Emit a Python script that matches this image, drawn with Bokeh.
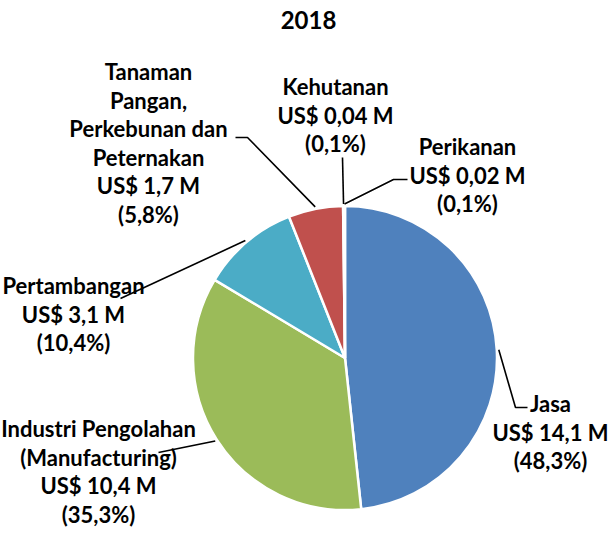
import math
from bokeh.plotting import figure
from bokeh.models import Range1d
from bokeh.core.properties import value
from bokeh.embed import file_html
from bokeh.resources import INLINE

# ---- data ----
title_text = "2018"
categories = ["Jasa", "Industri Pengolahan (Manufacturing)", "Pertambangan",
              "Tanaman Pangan, Perkebunan dan Peternakan", "Kehutanan", "Perikanan"]
name_lines = [["Jasa"], ["Industri Pengolahan", "(Manufacturing)"], ["Pertambangan"],
              ["Tanaman", "Pangan,", "Perkebunan dan", "Peternakan"], ["Kehutanan"], ["Perikanan"]]
values_musd = [14.1, 10.4, 3.1, 1.7, 0.04, 0.02]
percents = [48.3, 35.3, 10.4, 5.8, 0.1, 0.1]
colors = ["#4F81BD", "#9BBB59", "#4BACC6", "#C0504D", "#8064A2", "#F79646"]

# ---- layout (screen pixels of the picture) ----
CX, CY, R = 344.5, 357.5, 152
label_pos = [(550, 403), (98, 428), (73, 285), (148, 71), (335, 86), (467, 146)]
LINE_H = 28.6
# leader line extra points (after the start point on the pie edge)
leader_tail = [[(515, 407), (527, 407)],
               [(158, 452)],
               [(120, 298)],
               [(247, 137), (235, 137)],
               [(342, 157)],
               [(393, 179), (407, 179)]]

FONT = "Lato"

p = figure(width=608, height=532, output_backend="svg", toolbar_location=None,
           x_range=Range1d(0, 608), y_range=Range1d(-532, 0), min_border=0)
p.axis.visible = False
p.grid.visible = False
p.outline_line_color = None
p.background_fill_color = "white"
p.border_fill_color = "white"

total = sum(percents)
cum = 0.0
mids = []
for pct, col in zip(percents, colors):
    f0 = cum / total
    f1 = (cum + pct) / total
    cum += pct
    a_start = math.pi / 2 - 2 * math.pi * f1
    a_end = math.pi / 2 - 2 * math.pi * f0
    p.wedge(x=CX, y=-CY, radius=R, start_angle=a_start, end_angle=a_end,
            direction="anticlock", fill_color=col, line_color="white", line_width=2.5)
    mids.append((f0 + f1) / 2 * 2 * math.pi)

# leader lines
for th, tail in zip(mids, leader_tail):
    sx = CX + (R + 2) * math.sin(th)
    sy = CY - (R + 2) * math.cos(th)
    xs = [sx] + [t[0] for t in tail]
    ys = [-sy] + [-t[1] for t in tail]
    p.line(xs, ys, line_color="black", line_width=1.6)

# labels
tx, ty, tt = [], [], []
for names, v, pct, (lx, ly) in zip(name_lines, values_musd, percents, label_pos):
    lines = names + [("US$ %s M" % v).replace(".", ","), ("(%s%%)" % pct).replace(".", ",")]
    for i, s in enumerate(lines):
        tx.append(lx)
        ty.append(-(ly + i * LINE_H))
        tt.append(s)
p.text(x=tx, y=ty, text=tt, text_align="center", text_baseline="middle",
       text_font=value(FONT), text_font_style="bold", text_font_size="22px",
       text_color="black")

p.text(x=[308], y=[-19], text=[title_text], text_align="center", text_baseline="middle",
       text_font=value(FONT), text_font_style="bold", text_font_size="24px",
       text_color="black")

open("out.html", "w").write(file_html(p, INLINE))
